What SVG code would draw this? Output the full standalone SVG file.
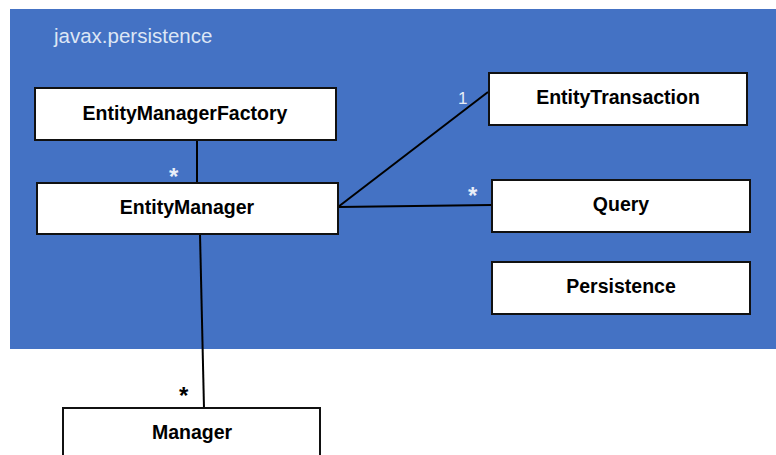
<svg xmlns="http://www.w3.org/2000/svg" width="776" height="455" viewBox="0 0 776 455">
<style>
.box{fill:#fff;stroke:#111;stroke-width:2}
.lbl{font-family:"Liberation Sans",Arial,sans-serif;font-weight:bold;font-size:19.5px;fill:#000;text-anchor:middle}
.conn{stroke:#000;stroke-width:2;fill:none}
.mw{font-family:"Liberation Sans",Arial,sans-serif;font-size:24px;font-weight:bold;fill:#e8eef8}
.mb{font-family:"Liberation Sans",Arial,sans-serif;font-size:24px;font-weight:bold;fill:#000}
.one{font-family:"Liberation Sans",Arial,sans-serif;font-size:17px;fill:#e8eef8}
</style>
<rect width="776" height="455" fill="#fff"/>
<g id="package">
<rect x="10" y="9" width="766" height="340" fill="#4472C4"/>
<text x="54" y="43" font-family="'Liberation Sans',Arial,sans-serif" font-size="20.5" fill="#dde6f5">javax.persistence</text>
</g>
<g id="connectors">
<line class="conn" x1="197" y1="140" x2="197" y2="183"/>
<line class="conn" x1="338" y1="207" x2="488" y2="92"/>
<line class="conn" x1="338" y1="207" x2="491" y2="205"/>
<line class="conn" x1="200" y1="234" x2="204" y2="408"/>
<text class="mw" x="169" y="185">*</text>
<text class="one" x="458" y="104">1</text>
<text class="mw" x="468" y="204">*</text>
<text class="mb" x="179" y="404">*</text>
</g>
<g id="EntityManagerFactory">
<rect class="box" x="35" y="88" width="301" height="52"/>
<text class="lbl" x="185" y="120">EntityManagerFactory</text>
</g>
<g id="EntityManager">
<rect class="box" x="37" y="183" width="301" height="51"/>
<text class="lbl" x="187" y="214">EntityManager</text>
</g>
<g id="EntityTransaction">
<rect class="box" x="489" y="73" width="258" height="52"/>
<text class="lbl" x="618" y="104">EntityTransaction</text>
</g>
<g id="Query">
<rect class="box" x="492" y="180" width="258" height="52"/>
<text class="lbl" x="621" y="211">Query</text>
</g>
<g id="Persistence">
<rect class="box" x="492" y="262" width="258" height="52"/>
<text class="lbl" x="621" y="293">Persistence</text>
</g>
<g id="Manager">
<rect class="box" x="63" y="408" width="257" height="60"/>
<text class="lbl" x="192" y="439">Manager</text>
</g>
</svg>
